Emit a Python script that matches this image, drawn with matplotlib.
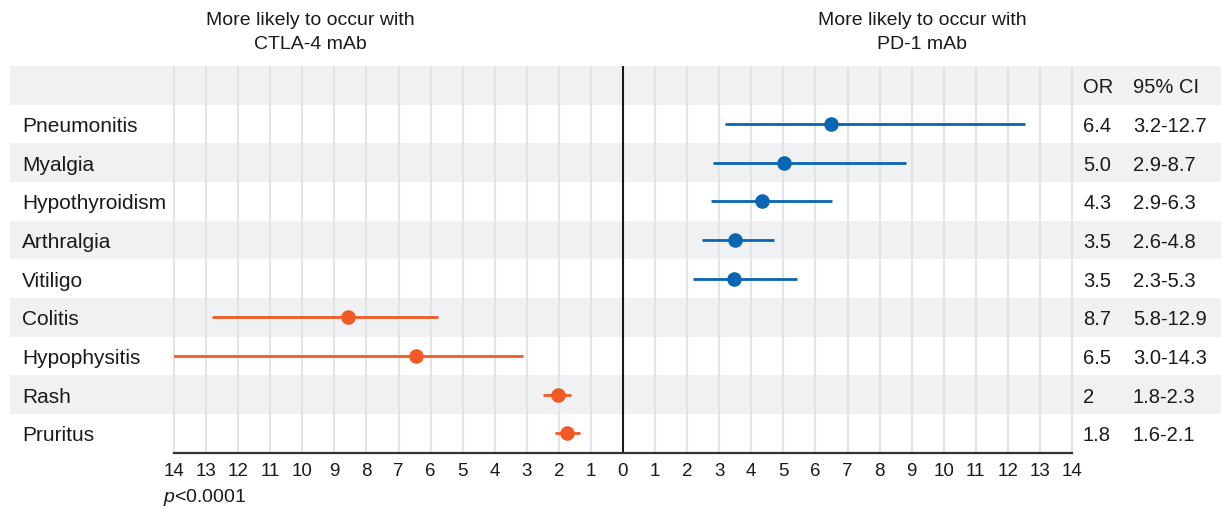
import matplotlib
matplotlib.use("Agg")
import matplotlib.pyplot as plt
import matplotlib.transforms as mtransforms
from matplotlib.patches import Rectangle

plt.rcParams['font.family'] = ['Liberation Sans', 'DejaVu Sans']
plt.rcParams['mathtext.fontset'] = 'custom'
plt.rcParams['mathtext.it'] = 'Liberation Sans:italic'
plt.rcParams['mathtext.rm'] = 'Liberation Sans'

# ---------------- data ----------------
categories = ['Pneumonitis', 'Myalgia', 'Hypothyroidism', 'Arthralgia', 'Vitiligo',
              'Colitis', 'Hypophysitis', 'Rash', 'Pruritus']
favours = ['PD-1', 'PD-1', 'PD-1', 'PD-1', 'PD-1', 'CTLA-4', 'CTLA-4', 'CTLA-4', 'CTLA-4']
# plotted odds ratios and CI ends
or_plot = [6.47, 5.01, 4.33, 3.50, 3.45, 8.59, 6.46, 2.04, 1.74]
ci_low_plot = [3.17, 2.81, 2.73, 2.45, 2.19, 5.78, 3.13, 1.61, 1.34]
ci_high_plot = [12.55, 8.81, 6.51, 4.70, 5.41, 12.82, 14.3, 2.49, 2.13]
# table text
or_text = ['6.4', '5.0', '4.3', '3.5', '3.5', '8.7', '6.5', '2', '1.8']
ci_text = ['3.2-12.7', '2.9-8.7', '2.9-6.3', '2.6-4.8', '2.3-5.3',
           '5.8-12.9', '3.0-14.3', '1.8-2.3', '1.6-2.1']
tick_values = list(range(-14, 15))
tick_labels = [str(abs(v)) for v in tick_values]
header_or = 'OR'
header_ci = '95% CI'
title_left = 'More likely to occur with\nCTLA-4 mAb'
title_right = 'More likely to occur with\nPD-1 mAb'
p_text = r'$p$<0.0001'

colors = {'PD-1': '#0a66b2', 'CTLA-4': '#f15a24'}
band_color = '#f0f1f3'
grid_color = '#e3e4e6'

W, H = 1221, 510
fig = plt.figure(figsize=(W / 100, H / 100), dpi=100)

ax_left, ax_right = 174, 1072
ax_top, ax_bot = 67, 453.5
ax = fig.add_axes([ax_left / W, 1 - ax_bot / H, (ax_right - ax_left) / W, (ax_bot - ax_top) / H])
ax.patch.set_visible(False)

n = len(categories)
nrows = n + 1
ax.set_xlim(-14, 14)
ax.set_ylim(-0.5, nrows - 0.5)

blend = mtransforms.blended_transform_factory(fig.transFigure, ax.transData)

# background bands (header row = index 0)
for i in range(nrows):
    y = nrows - 1 - i
    if i % 2 == 0:
        r = Rectangle((10 / W, y - 0.5), 1 - 10 / W, 1.0, transform=blend,
                      facecolor=band_color, edgecolor='none', zorder=0, clip_on=False)
        ax.add_patch(r)

# vertical grid lines
for v in tick_values:
    if v == 0:
        continue
    ax.plot([v, v], [-0.5, nrows - 0.5], color=grid_color, lw=1.5, zorder=1,
            solid_capstyle='butt', clip_on=False)
ax.plot([0, 0], [-0.5, nrows - 0.5], color='#1a1a1a', lw=1.5, zorder=3,
        solid_capstyle='butt', clip_on=False)

# data
for i, cat in enumerate(categories):
    y = nrows - 2 - i
    sign = 1 if favours[i] == 'PD-1' else -1
    c = colors[favours[i]]
    ax.plot([sign * ci_low_plot[i], sign * ci_high_plot[i]], [y, y], color=c, lw=2.0,
            solid_capstyle='butt', zorder=4)
    ax.plot([sign * or_plot[i]], [y], 'o', color=c, markersize=10.5, zorder=5,
            markeredgewidth=0)
    ax.text(22 / W, y - 0.04, cat, transform=blend, ha='left', va='center', fontsize=15, color='#1a1a1a')
    ax.text(1083 / W, y - 0.04, or_text[i], transform=blend, ha='left', va='center', fontsize=14.5, color='#1a1a1a')
    ax.text(1133 / W, y - 0.04, ci_text[i], transform=blend, ha='left', va='center', fontsize=14.5, color='#1a1a1a')

ax.text(1083 / W, nrows - 1 - 0.04, header_or, transform=blend, ha='left', va='center', fontsize=14.5, color='#1a1a1a')
ax.text(1133 / W, nrows - 1 - 0.04, header_ci, transform=blend, ha='left', va='center', fontsize=14.5, color='#1a1a1a')

# axes styling
for s in ['top', 'right', 'left']:
    ax.spines[s].set_visible(False)
ax.spines['bottom'].set_color('#333333')
ax.spines['bottom'].set_linewidth(1.6)
ax.spines['bottom'].set_zorder(6)
ax.set_yticks([])
ax.set_xticks(tick_values)
ax.set_xticklabels(tick_labels, fontsize=13.5, color='#1a1a1a')
ax.tick_params(axis='x', length=0, pad=7)

fig.text(310 / W, 1 - 32.5 / H, title_left, ha='center', va='center', fontsize=14, color='#1a1a1a',
         linespacing=1.55)
fig.text(922 / W, 1 - 32.5 / H, title_right, ha='center', va='center', fontsize=14, color='#1a1a1a',
         linespacing=1.55)
fig.text(163 / W, 1 - 498 / H, p_text, ha='left', va='center', fontsize=14, color='#1a1a1a')

fig.savefig('out.png', dpi=100)
